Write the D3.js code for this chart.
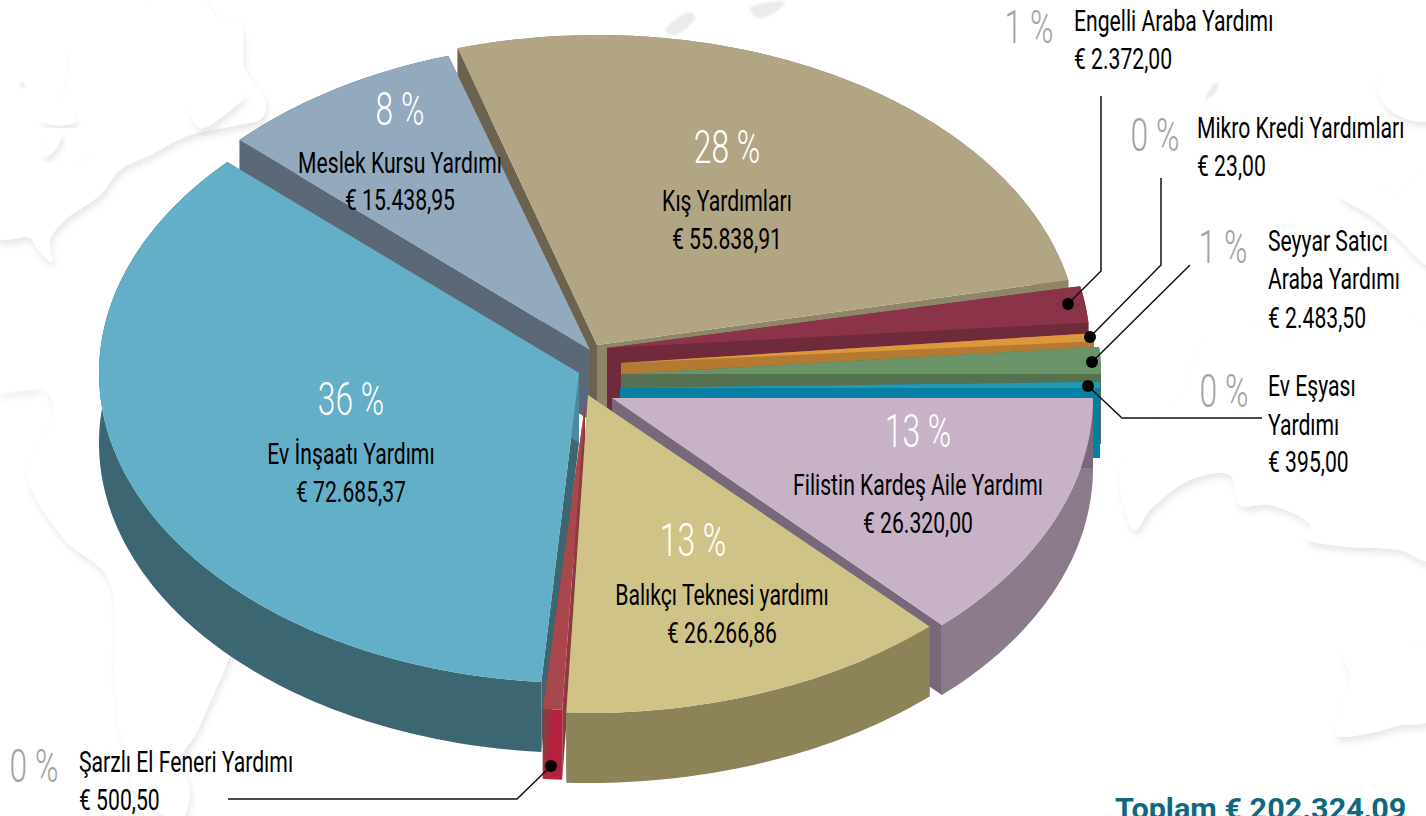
<!DOCTYPE html>
<html lang="tr"><head><meta charset="utf-8">
<style>html,body{margin:0;padding:0;background:#fff;overflow:hidden}svg{display:block}text{font-family:Roboto,"Noto Sans",sans-serif}</style>
<script src="https://cdn.jsdelivr.net/npm/d3@7/dist/d3.min.js"></script>
</head><body><svg id="c" width="1426" height="816"></svg>
<script>
// DATA — clockwise from the Kış slice
const categories = ["Kış Yardımları","Engelli Araba Yardımı","Mikro Kredi Yardımları","Seyyar Satıcı Araba Yardımı","Ev Eşyası Yardımı","Filistin Kardeş Aile Yardımı","Balıkçı Teknesi yardımı","Şarzlı El Feneri Yardımı","Ev İnşaatı Yardımı","Meslek Kursu Yardımı"];
const values = [55838.91,2372,23,2483.5,395,26320,26266.86,500.5,72685.37,15438.95];
const totalLabel = "Toplam € 202.324,09";

// STYLE
const topColors  = ["#b1a584","#8a3349","#de973a","#6a9368","#2499b3","#c7b2c8","#d0c388","#a8474c","#63afc7","#93a9bd"];
const wallColors = ["#8f8669","#6f2b3b","#b47a31","#56714f","#0580a4","#8b7b8b","#8c8359","#b6213e","#3b6672","#5a6878"];
const leftFace   = ["#6b6350","#6f2b3b","#b47a31","#56714f","#0580a4","#77697a","#8c8359","#8f3a42","#3b6672","#5a6878"];
const rightFace  = ["#8f8669","#6f2b3b","#b47a31","#56714f","#0580a4","#77697a","#8c8359","#8f3a42","#4b8a9c","#5a6878"];

// LAYOUT — exploded centres, radii, drawing quirks of the 3-D artwork
const apexX = [597,607,621,621,620,612,588,585,579,590];
const apexY = [345,348,363,374,388,398,395,405,373,350];
const radX  = [482,483,474,480,480,481,498,484,480,479];
const radY  = [310,310,310,310,310,312,318,305,310,308];
const startNudge = [0,-4.05,-2.27,-1.81,-2.33,-1.93,-2.06,-2.8,-1.89,-2.72];
const endNudge   = [-4.65,-1.47,-0.81,-1.23,-1.93,-2.06,-3.0,-1.39,-2.82,-0.39];
const drawOrder  = [0,1,2,3,4,9,5,8,7,6];
const firstAngle = -16.81;
const sliceDepth = 70;

const innerLabels = [
 {i:0,pct:[727,146],lines:[[727,200],[727,238]]},
 {i:9,pct:[400,108],lines:[[400,162],[400,199]]},
 {i:8,pct:[351,398],lines:[[351,453],[351,491]]},
 {i:5,pct:[918,430],lines:[[918,484],[918,522]]},
 {i:6,pct:[693,539],lines:[[722,594],[722,632]]}];
const outerLabels = [
 {i:1,pct:[1029,26],x:1074,ys:[20,58],text:["Engelli Araba Yardımı"]},
 {i:2,pct:[1155,134],x:1197,ys:[127,165],text:["Mikro Kredi Yardımları"]},
 {i:3,pct:[1223,246],x:1268,ys:[240,278,317],text:["Seyyar Satıcı","Araba Yardımı"]},
 {i:4,pct:[1224,390],x:1268,ys:[385,424,461],text:["Ev Eşyası","Yardımı"]},
 {i:7,pct:[34,765],x:79,ys:[761,799],text:["Şarzlı El Feneri Yardımı"]}];
const leaders = [
 [[1068,304],[1101,271],[1101,96]],
 [[1090,337],[1161,265],[1161,178]],
 [[1092,362],[1190,265]],
 [[1088,386],[1122,418],[1262,418]],
 [[551,766],[517,799],[228,799]]];
const coastlines = [
 [[75,45],[110,28],[145,12],[160,-5],[200,-5],[215,15],[240,25],[245,70],[265,100],[262,118],[238,125],[190,135],[150,155],[120,170],[100,195],[65,220],[50,240],[52,262],[38,250],[30,238],[-5,237],[-5,120],[60,100]],
 [[40,120],[70,112],[75,122],[55,125]],[[45,140],[62,132],[55,150],[44,157]],[[72,160],[88,152],[80,157]],
 [[190,108],[245,95],[228,112],[200,128]],
 [[-5,392],[35,385],[50,395],[52,420],[30,460],[28,480],[65,540],[108,578],[115,680],[120,730],[130,760],[135,790],[180,820],[190,790],[180,760],[195,735],[220,680],[240,640],[300,600],[300,400]],
 [[1120,470],[1150,430],[1170,410],[1185,390],[1210,330],[1260,325],[1290,340],[1350,320],[1430,330],[1430,560],[1400,550],[1340,546],[1306,538],[1310,525],[1270,505],[1240,505],[1230,475],[1190,480],[1150,510],[1135,530]],
 [[1345,650],[1350,680],[1340,712],[1336,735],[1370,733],[1400,725],[1430,720],[1430,650]],
 [[1378,80],[1400,55],[1430,50],[1430,120],[1390,110]],
 [[1340,195],[1375,185],[1400,195],[1430,165],[1430,265],[1395,235],[1370,215]]];
const smudges = [[[1205,100],[1213,85],[1218,82],[1216,92]],[[22,82],[26,85],[24,88],[20,86]],[[665,30],[690,12],[695,18],[675,35]],[[750,8],[785,2],[772,14],[758,18]]];

// BUILD
const svg = d3.select("#c");
const defs = svg.append("defs");
defs.append("filter").attr("id","sh").attr("x","-20%").attr("y","-20%").attr("width","140%").attr("height","140%")
  .append("feDropShadow").attr("dx",2).attr("dy",5).attr("stdDeviation",3).attr("flood-color","#000").attr("flood-opacity",0.09);
defs.append("filter").attr("id","bl").append("feGaussianBlur").attr("stdDeviation",1);

const blob = d3.line().curve(d3.curveCatmullRomClosed.alpha(0.5));
svg.append("g").selectAll("path").data(coastlines).join("path").attr("d",blob).attr("fill","#fff").attr("filter","url(#sh)");
svg.append("g").selectAll("path").data(smudges).join("path").attr("d",blob).attr("fill","#ebebeb").attr("filter","url(#bl)");

const pie = d3.pie().sort(null).value(d=>d).startAngle(firstAngle*Math.PI/180).endAngle((firstAngle+360)*Math.PI/180);
const arcs = pie(values);
const rad = Math.PI/180;
const line = d3.line();

const geo = arcs.map((a,i)=>{
  const s = a.startAngle + startNudge[i]*rad, e = a.endAngle + endNudge[i]*rad;
  const n = Math.max(2,Math.ceil((e-s)/(1*rad)));
  const rim = d3.range(n+1).map(k=>{const t=s+(e-s)*k/n;return [apexX[i]+radX[i]*Math.sin(t), apexY[i]-radY[i]*Math.cos(t)];});
  return {apex:[apexX[i],apexY[i]],rim};
});
const down = p=>[p[0],p[1]+sliceDepth];
const g = svg.append("g");
drawOrder.forEach(i=>{
  const {apex,rim} = geo[i];
  const sl = g.append("g").attr("data-name",categories[i]);
  sl.append("path").attr("d",line(rim.concat(rim.map(down).reverse()))+"Z").attr("fill",wallColors[i]);
  const first=rim[0], last=rim[rim.length-1];
  sl.append("path").attr("d",line([apex,first,down(first),down(apex)])+"Z").attr("fill",leftFace[i]);
  sl.append("path").attr("d",line([apex,last,down(last),down(apex)])+"Z").attr("fill",rightFace[i]);
  sl.append("path").attr("d",line([apex].concat(rim))+"Z").attr("fill",topColors[i]);
});

// LEADERS
const lg = svg.append("g");
lg.selectAll("path").data(leaders).join("path").attr("d",line).attr("fill","none").attr("stroke","#111").attr("stroke-width",1.5);
lg.selectAll("circle").data(leaders).join("circle").attr("cx",d=>d[0][0]).attr("cy",d=>d[0][1]).attr("r",6).attr("fill","#000");

// TEXT
const money = d3.formatLocale({decimal:",",thousands:".",grouping:[3],currency:["€ ",""]}).format("$,.2f");
const total = d3.sum(values);
const pctText = v=>Math.round(v/total*100)+" %";
function label(x,y,txt,o={}){
  const size=o.size||30, sx=o.sx||0.705;
  return svg.append("text").attr("transform",`translate(${x},${y}) scale(${sx},1)`)
    .attr("text-anchor",o.anchor||"start").attr("font-size",size).attr("font-weight",o.weight||400)
    .attr("fill",o.fill||"#000").text(txt);
}
innerLabels.forEach(l=>{
  label(l.pct[0],l.pct[1]+17,pctText(values[l.i]),{anchor:"middle",size:46,sx:0.69,weight:300,fill:"#fff"});
  label(l.lines[0][0],l.lines[0][1]+11,categories[l.i],{anchor:"middle"});
  label(l.lines[1][0],l.lines[1][1]+11,money(values[l.i]),{anchor:"middle"});
});
outerLabels.forEach(l=>{
  label(l.pct[0],l.pct[1]+17,pctText(values[l.i]),{anchor:"middle",size:46,sx:0.69,weight:300,fill:"#a3a3a3"});
  l.text.forEach((t,k)=>label(l.x,l.ys[k]+11,t));
  label(l.x,l.ys[l.text.length]+11,money(values[l.i]));
});
label(1115,819,totalLabel,{size:30,sx:1.02,weight:700,fill:"#0e6880"});
</script></body></html>
